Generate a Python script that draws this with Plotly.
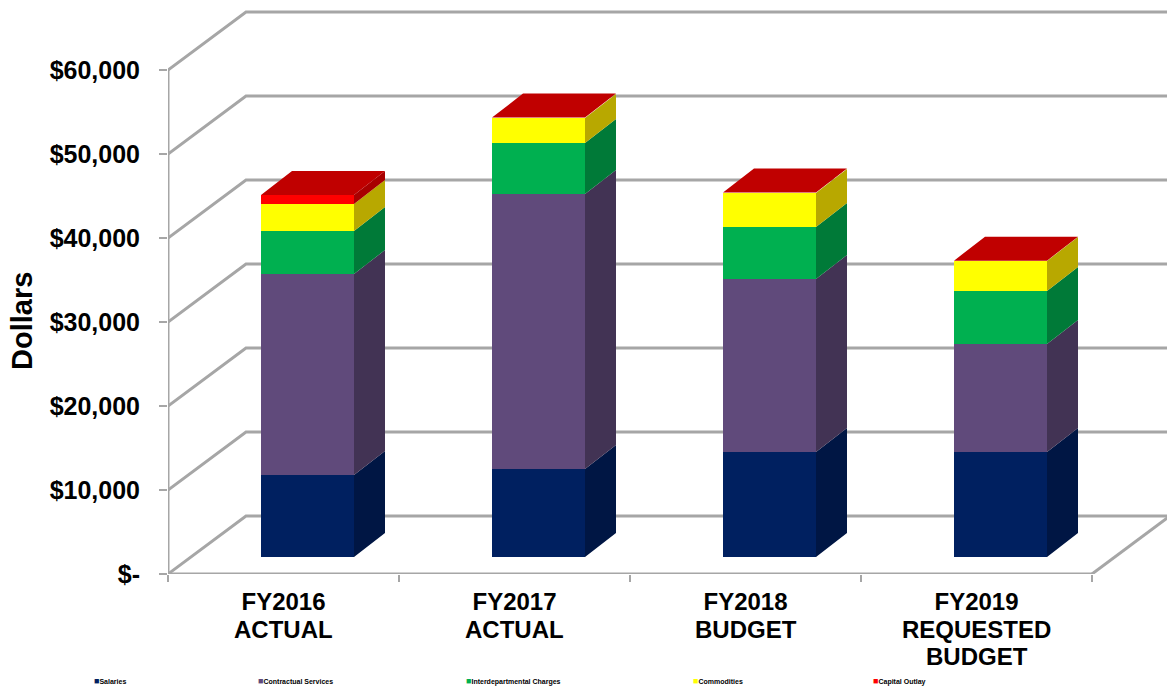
import plotly.graph_objects as go

categories = [["FY2016", "ACTUAL"], ["FY2017", "ACTUAL"], ["FY2018", "BUDGET"], ["FY2019", "REQUESTED", "BUDGET"]]
series_names = ["Salaries", "Contractual Services", "Interdepartmental Charges", "Commodities", "Capital Outlay"]
salaries = [9760, 10480, 12500, 12500]
contractual = [23930, 32740, 20600, 12860]
interdepartmental = [5120, 6070, 6190, 6310]
commodities = [3210, 2980, 4050, 3570]
capital_outlay = [1070, 40, 40, 40]
y_ticks = [0, 10000, 20000, 30000, 40000, 50000, 60000]
y_labels = ["$-", "$10,000", "$20,000", "$30,000", "$40,000", "$50,000", "$60,000"]

front_colors = ["#002060", "#604A7B", "#00B050", "#FFFF00", "#FF0000"]
side_colors = ["#001644", "#423354", "#007A38", "#B8A800", "#A80000"]
top_color = "#C00000"
grid_color = "#A6A6A6"

W, H = 1167, 687
X0, Y0 = 168, 574            # pixel position of the axes origin
PX_PER_CAT = 231.0
PX_PER_DOLLAR = 8.4 / 1000
X_MAX = (W - X0) / PX_PER_CAT
Y_MAX = Y0 / PX_PER_DOLLAR
WALL_DX, WALL_DY = 78 / PX_PER_CAT, 58 / PX_PER_DOLLAR
BAR_LEFT, BAR_W = 93 / PX_PER_CAT, 93 / PX_PER_CAT
BAR_BASE = 17 / PX_PER_DOLLAR
BAR_DX, BAR_DY = 31 / PX_PER_CAT, 24 / PX_PER_DOLLAR

fig = go.Figure()


def poly(xs, ys, color, name):
    fig.add_trace(go.Scatter(x=xs, y=ys, mode="lines", fill="toself", fillcolor=color,
                             line=dict(width=0, color=color), name=name,
                             hoverinfo="name", showlegend=False, cliponaxis=False))


# walls and floor
gx, gy = [], []
for t in y_ticks:
    gx += [0, WALL_DX, X_MAX + 1, None]
    gy += [t, t + WALL_DY, t + WALL_DY, None]
gx += [4, 4 + WALL_DX, None, 0, 0, None, 0, 4]
gy += [0, WALL_DY, None, 0, 60000, None, 0, 0]
fig.add_trace(go.Scatter(x=gx, y=gy, mode="lines", line=dict(color=grid_color, width=3),
                         hoverinfo="skip", showlegend=False, cliponaxis=False))

# stacked prisms
all_series = [salaries, contractual, interdepartmental, commodities, capital_outlay]
bases = [BAR_BASE] * len(categories)
for s, (vals, name) in enumerate(zip(all_series, series_names)):
    fx, fy, sx, sy = [], [], [], []
    for i, v in enumerate(vals):
        l = i + BAR_LEFT
        r = l + BAR_W
        b = bases[i]
        t = b + v
        fx += [l, r, r, l, l, None]
        fy += [b, b, t, t, b, None]
        sx += [r, r + BAR_DX, r + BAR_DX, r, r, None]
        sy += [b, b + BAR_DY, t + BAR_DY, t, b, None]
        bases[i] = t
    poly(sx, sy, side_colors[s], name)
    poly(fx, fy, front_colors[s], name)

tx, ty = [], []
for i, t in enumerate(bases):
    l = i + BAR_LEFT
    r = l + BAR_W
    tx += [l, r, r + BAR_DX, l + BAR_DX, l, None]
    ty += [t, t, t + BAR_DY, t + BAR_DY, t, None]
poly(tx, ty, top_color, "Capital Outlay")

# legend row
legend_x = [92, 256, 464, 691, 871]
annotations = []
for name, color, x in zip(series_names, front_colors, legend_x):
    annotations.append(dict(xref="paper", yref="paper", x=x / W, y=1 - 681 / H, xanchor="left", yanchor="middle",
                            showarrow=False, align="left",
                            text=f'<span style="color:{color};font-size:9px">■</span>{name}',
                            font=dict(family="Liberation Sans", size=7, color="#000000", weight=700)))

label_font = dict(family="Liberation Sans", size=24, color="#000000", weight=700)

# second and third lines of the category labels (tighter leading than a tick label allows)
for i, lines in enumerate(categories):
    for k, line in enumerate(lines[1:], start=1):
        annotations.append(dict(xref="x", yref="paper", x=i + 0.5, y=1 - (602 + 27 * k) / H,
                                xanchor="center", yanchor="middle", showarrow=False, text=line, font=label_font))

annotations.append(dict(xref="paper", yref="paper", x=22 / W, y=1 - 321 / H, textangle=-90, showarrow=False,
                        xanchor="center", yanchor="middle", text="Dollars",
                        font=dict(family="Liberation Sans", size=29, color="#000000", weight=700)))

fig.update_layout(
    width=W, height=H, margin=dict(l=0, r=0, t=0, b=0), autosize=False,
    paper_bgcolor="#FFFFFF", plot_bgcolor="#FFFFFF", showlegend=False,
    annotations=annotations,
    xaxis=dict(domain=[X0 / W, 1], range=[0, X_MAX], showgrid=False, zeroline=False, showline=False,
               automargin=False,
               tickmode="array", tickvals=[i + 0.5 for i in range(len(categories))],
               ticktext=[c[0] for c in categories], ticks="",
               ticklabelstandoff=11, tickfont=label_font,
               minor=dict(tickmode="array", tickvals=[0, 1, 2, 3, 4], ticks="outside", ticklen=7,
                          tickwidth=2, tickcolor=grid_color, showgrid=False)),
    yaxis=dict(domain=[1 - Y0 / H, 1], range=[0, Y_MAX], showgrid=False, zeroline=False, showline=False,
               automargin=False,
               tickmode="array", tickvals=y_ticks, ticktext=y_labels, ticks="outside", ticklen=8, tickwidth=2,
               tickcolor=grid_color, ticklabelstandoff=14,
               tickfont=dict(family="Liberation Sans", size=25, color="#000000", weight=700)),
)
fig.write_html("out.html", config={"displayModeBar": False},
               post_script="document.body.style.margin='0';document.body.style.overflow='hidden';")
